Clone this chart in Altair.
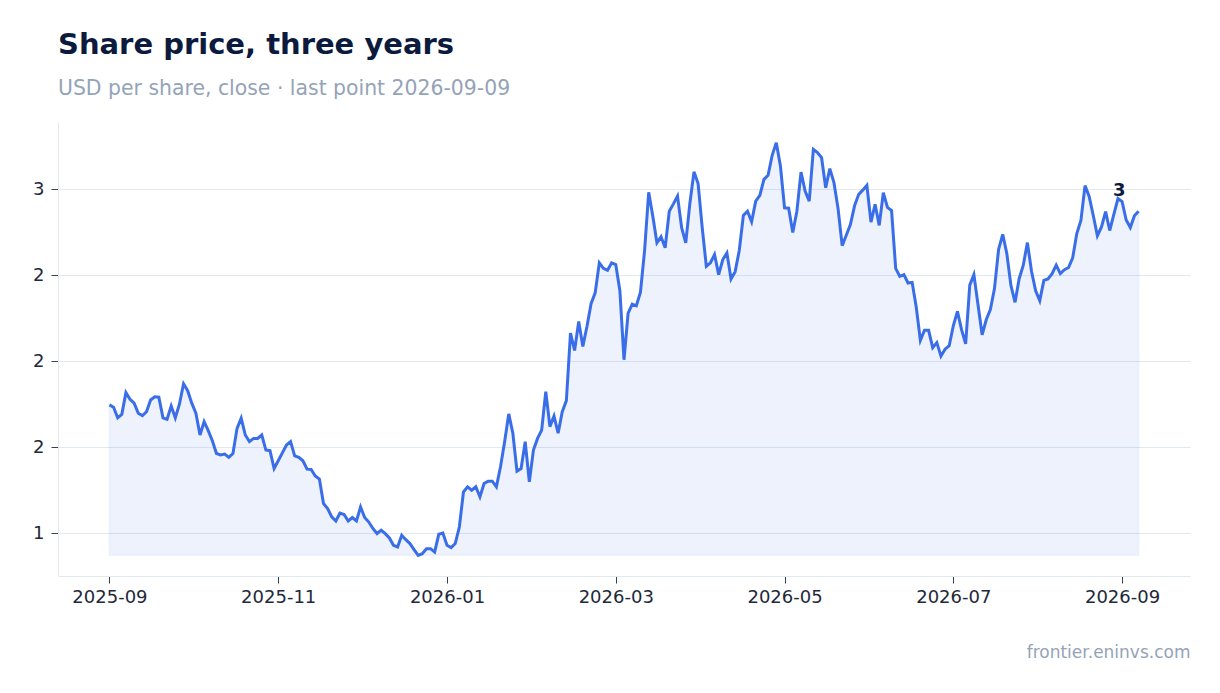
import json

import altair as alt
import pandas as pd

# closing prices, one per business day, ending on the last point
price = [
    1.796, 1.785, 1.736, 1.752, 1.853, 1.822, 1.804, 1.757, 1.746, 1.764,
    1.819, 1.834, 1.832, 1.736, 1.729, 1.791, 1.736, 1.799, 1.894, 1.862,
    1.804, 1.757, 1.656, 1.718, 1.676, 1.629, 1.570, 1.563, 1.567, 1.552,
    1.570, 1.687, 1.734, 1.656, 1.625, 1.640, 1.640, 1.656, 1.586, 1.583,
    1.500, 1.536, 1.573, 1.609, 1.625, 1.559, 1.552, 1.536, 1.497, 1.496,
    1.465, 1.451, 1.337, 1.314, 1.275, 1.256, 1.293, 1.286, 1.256, 1.272,
    1.256, 1.321, 1.272, 1.251, 1.221, 1.197, 1.213, 1.197, 1.177, 1.143,
    1.135, 1.189, 1.169, 1.151, 1.123, 1.096, 1.104, 1.127, 1.127, 1.111,
    1.194, 1.200, 1.143, 1.132, 1.151, 1.228, 1.391, 1.415, 1.399, 1.415,
    1.368, 1.430, 1.441, 1.441, 1.415, 1.508, 1.625, 1.754, 1.664, 1.488,
    1.500, 1.625, 1.438, 1.586, 1.640, 1.679, 1.858, 1.695, 1.744, 1.664,
    1.764, 1.816, 2.130, 2.049, 2.184, 2.068, 2.161, 2.267, 2.317, 2.457,
    2.431, 2.422, 2.457, 2.449, 2.327, 2.006, 2.223, 2.265, 2.257, 2.320,
    2.514, 2.785, 2.674, 2.550, 2.578, 2.527, 2.697, 2.731, 2.767, 2.620,
    2.550, 2.733, 2.880, 2.826, 2.621, 2.441, 2.457, 2.495, 2.402, 2.472,
    2.503, 2.382, 2.416, 2.514, 2.677, 2.697, 2.648, 2.744, 2.771, 2.845,
    2.864, 2.957, 3.016, 2.907, 2.713, 2.711, 2.598, 2.697, 2.879, 2.791,
    2.744, 2.985, 2.970, 2.946, 2.806, 2.895, 2.830, 2.710, 2.537, 2.585,
    2.635, 2.722, 2.775, 2.795, 2.817, 2.646, 2.729, 2.631, 2.783, 2.715,
    2.700, 2.431, 2.394, 2.402, 2.363, 2.366, 2.250, 2.096, 2.143, 2.143,
    2.062, 2.086, 2.023, 2.055, 2.071, 2.164, 2.231, 2.146, 2.080, 2.353,
    2.402, 2.262, 2.122, 2.192, 2.239, 2.337, 2.519, 2.589, 2.500, 2.351,
    2.273, 2.383, 2.446, 2.551, 2.418, 2.327, 2.281, 2.375, 2.382, 2.406,
    2.446, 2.407, 2.425, 2.435, 2.480, 2.593, 2.654, 2.816, 2.766, 2.677,
    2.583, 2.624, 2.695, 2.607, 2.682, 2.756, 2.742, 2.656, 2.621, 2.676,
    2.697,
]
last_date = "2026-09-09"
tick_dates = ["2025-09-24", "2025-11-20", "2026-01-16", "2026-03-16",
              "2026-05-12", "2026-07-08", "2026-09-03"]
y_ticks = [1.2, 1.6, 2.0, 2.4, 2.8]

BLUE = "#3a6ee8"
INK = "#0b1a3d"
MUTED = "#94a3b8"
RULE = "#e2e8f0"

dates = list(pd.bdate_range(end=last_date, periods=len(price)).strftime("%Y-%m-%d"))
df = pd.DataFrame({"i": range(len(price)), "date": dates, "price": price})

# trading days sit evenly along x, so plot them by their position
tick_idx = [dates.index(d) for d in tick_dates]
tick_lab = [d[:7] for d in tick_dates]
label_expr = "%s[indexof(%s, datum.value)]" % (json.dumps(tick_lab), json.dumps(tick_idx))

lo, hi = min(price), max(price)
pad = 0.05 * (hi - lo)
n = len(price) - 1

x = alt.X(
    "i:Q",
    title="frontier.eninvs.com",
    scale=alt.Scale(domain=[-0.05 * n, 1.05 * n], nice=False, zero=False),
    axis=alt.Axis(
        values=tick_idx,
        tickCount=len(tick_idx),
        labelExpr=label_expr,
        labelAngle=0,
        labelFlush=False,
        labelFontSize=18,
        labelColor="#1e293b",
        labelPadding=5,
        tickSize=7,
        tickColor="#374151",
        domainColor=RULE,
        grid=False,
        titleAnchor="end",
        titleAlign="right",
        titleFontSize=17,
        titleFontWeight="normal",
        titleColor=MUTED,
        titlePadding=38,
    ),
)
y = alt.Y(
    "price:Q",
    title=None,
    scale=alt.Scale(domain=[lo - pad, hi + pad], nice=False, zero=False),
    axis=alt.Axis(
        values=y_ticks,
        tickCount=len(y_ticks),
        format=".0f",
        labelFontSize=18,
        labelColor="#1e293b",
        labelPadding=7,
        tickSize=7,
        tickColor="#374151",
        domainColor=RULE,
        gridColor=RULE,
    ),
)

base = alt.Chart(df)
area = base.mark_area(
    fill=BLUE, fillOpacity=0.09, stroke=BLUE, strokeOpacity=0.06, strokeWidth=1.5
).encode(x=x, y=y, y2=alt.datum(lo))
line = base.mark_line(color=BLUE, strokeWidth=3).encode(x=x, y=y)
label = alt.Chart(df.tail(1)).mark_text(
    align="right", baseline="alphabetic", dx=-13, dy=-15,
    fontSize=18, fontWeight="bold", color=INK
).encode(x=x, y=y, text=alt.Text("price:Q", format=".0f"))

chart = alt.layer(area, line, label).properties(
    width=1132,
    height=454,
    padding={"left": 50, "top": 114, "right": 18, "bottom": 100},
    autosize=alt.AutoSizeParams(type="none"),
    title=alt.TitleParams(
        text="Share price, three years",
        subtitle="USD per share, close · last point 2026-09-09",
        anchor="start",
        frame="group",
        fontSize=29,
        fontWeight="bold",
        color=INK,
        subtitleFontSize=20.4,
        subtitleColor=MUTED,
        subtitlePadding=19,
        offset=23,
    ),
).configure(font="DejaVu Sans").configure_view(stroke=None)

chart.save("out.html", embed_options={"renderer": "svg", "actions": False})
